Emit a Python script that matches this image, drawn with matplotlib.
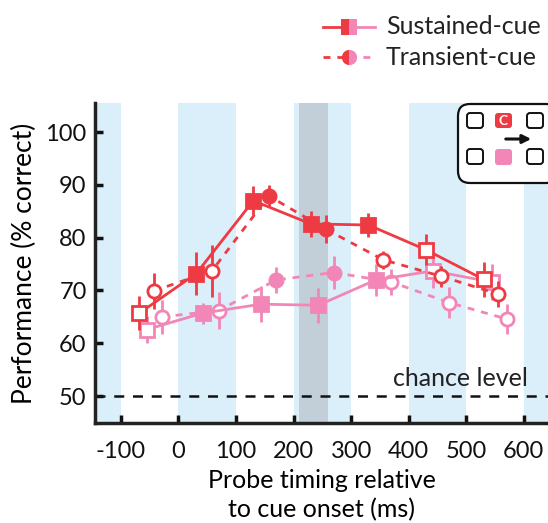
import matplotlib
matplotlib.use("Agg")
import matplotlib.pyplot as plt
from matplotlib.patches import FancyBboxPatch

plt.rcParams['font.family'] = ['Lato', 'DejaVu Sans']

RED = '#ee3a43'
PINK = '#f287b7'
BLUE = '#dbeffa'
GRAY = '#c3cfd8'

# Data
red_sus_x = [-68, 31, 130, 230, 330, 430, 530]
red_sus_y = [65.7, 73.2, 87.0, 82.6, 82.4, 77.7, 72.1]
red_sus_e = [3.2, 4.0, 2.8, 2.4, 2.3, 2.9, 3.3]
red_sus_f = [False, True, True, True, True, False, False]

red_tr_x = [-43, 58, 157, 256, 356, 456, 556]
red_tr_y = [69.9, 73.7, 87.9, 81.6, 75.8, 72.7, 69.3]
red_tr_e = [3.5, 5.0, 2.0, 2.7, 1.7, 2.0, 2.5]
red_tr_f = [False, False, True, True, False, False, False]

pink_sus_x = [-55, 42, 143, 243, 343, 442, 544]
pink_sus_y = [62.6, 65.7, 67.4, 67.2, 72.0, 73.7, 71.6]
pink_sus_e = [2.5, 2.0, 3.4, 3.3, 3.0, 3.2, 3.5]
pink_sus_f = [False, True, True, True, True, False, False]

pink_tr_x = [-29, 70, 170, 270, 370, 470, 570]
pink_tr_y = [65.0, 66.2, 72.0, 73.4, 71.6, 67.7, 64.6]
pink_tr_e = [3.2, 3.5, 2.5, 3.2, 2.4, 3.0, 2.9]
pink_tr_f = [False, False, True, True, False, False, False]

blue_bands = [(-200, -100), (0, 100), (200, 300), (400, 500), (600, 700)]
gray_band = (210, 260)
xticks = [-100, 0, 100, 200, 300, 400, 500, 600]
yticks = [50, 60, 70, 80, 90, 100]

W, H = 548, 523
FS = 18
fig = plt.figure(figsize=(W / 100, H / 100), dpi=100)
ax = fig.add_axes([95 / W, 1 - 423 / H, (W - 95) / W, (423 - 103) / H])
ax.set_xlim(-145, 642)
ax.set_ylim(44.9, 105.5)

for a, b in blue_bands:
    ax.axvspan(a, b, color=BLUE, lw=0, zorder=0)
ax.axvspan(*gray_band, color=GRAY, lw=0, zorder=0.5)
ax.axhline(50, color='#111111', ls=(0, (4, 3.5)), lw=1.8, zorder=1)
ax.text(607, 51.9, 'chance level', ha='right', va='baseline', fontsize=FS, color='#222222')


def series(xs, ys, es, fs, color, ls, marker, z, ms):
    ax.plot(xs, ys, color=color, ls=ls, lw=2, zorder=z)
    for x, y, e, f in zip(xs, ys, es, fs):
        ax.plot([x, x], [y - e, y + e], color=color, lw=2, zorder=z + 0.1,
                solid_capstyle='butt')
        ax.plot([x], [y], marker=marker, ms=ms, mew=2, mec=color,
                mfc=color if f else 'white', zorder=z + 0.2, ls='none')


series(pink_tr_x, pink_tr_y, pink_tr_e, pink_tr_f, PINK, (0, (2.5, 2.5)), 'o', 2, 9.5)
series(pink_sus_x, pink_sus_y, pink_sus_e, pink_sus_f, PINK, '-', 's', 3, 10)
series(red_tr_x, red_tr_y, red_tr_e, red_tr_f, RED, (0, (2.5, 2.5)), 'o', 4, 9.5)
series(red_sus_x, red_sus_y, red_sus_e, red_sus_f, RED, '-', 's', 5, 10)

ax.set_xticks(xticks)
ax.set_yticks(yticks)
ax.set_xticklabels([str(t) for t in xticks])
ax.tick_params(direction='in', length=6, width=2.5, labelsize=FS - 1, colors='#111111')
ax.tick_params(axis='x', pad=13)
ax.tick_params(axis='y', pad=6)
for s in ['top', 'right']:
    ax.spines[s].set_visible(False)
for s in ['left', 'bottom']:
    ax.spines[s].set_linewidth(2.5)
    ax.spines[s].set_color('#222222')
ax.set_ylabel('Performance (% correct)', fontsize=FS + 1, labelpad=6)
ax.set_xlabel('Probe timing relative\nto cue onset (ms)', fontsize=FS, labelpad=5,
              linespacing=1.3)

# Legend (manual)
lg = fig.add_axes([0, 1 - 75 / H, 1, 75 / H])
lg.set_xlim(0, W)
lg.set_ylim(75, 0)
lg.axis('off')
for yy, ls, mk, lab in [(27, '-', 's', 'Sustained-cue'), (57, (0, (2.5, 2.5)), 'o', 'Transient-cue')]:
    lg.plot([323, 349], [yy, yy], color=RED, ls=ls, lw=2)
    lg.plot([349, 375], [yy, yy], color=PINK, ls=ls, lw=2)
    lg.plot([349], [yy], marker=mk, ms=11, fillstyle='left', mfc=RED, mfcalt=PINK,
            mec='none', mew=0)
    lg.text(386, yy, lab, fontsize=FS, va='center', ha='left', color='#222222')

# Inset icon
ic = fig.add_axes([0, 0, 1, 1], zorder=10)
ic.set_xlim(0, W)
ic.set_ylim(H, 0)
ic.axis('off')
ic.add_patch(FancyBboxPatch((458, 104), 100, 79, boxstyle='round,pad=0,rounding_size=12',
                            fc='white', ec='#111111', lw=1.6))
for (x0, y0) in [(467, 113), (527, 113), (467, 149), (527, 149)]:
    ic.add_patch(FancyBboxPatch((x0, y0), 16, 15, boxstyle='round,pad=0,rounding_size=3',
                                fc='white', ec='#111111', lw=1.4))
ic.add_patch(FancyBboxPatch((495, 113), 17, 15, boxstyle='round,pad=0,rounding_size=3',
                            fc=RED, ec='none'))
ic.text(503.5, 121, 'C', color='white', fontsize=10, fontweight='bold', ha='center', va='center')
ic.add_patch(FancyBboxPatch((495, 149), 17, 16, boxstyle='round,pad=0,rounding_size=3',
                            fc=PINK, ec='none'))
ic.annotate('', xy=(534, 139), xytext=(503, 139),
            arrowprops=dict(arrowstyle='-|>,head_length=0.5,head_width=0.25', color='#111111', lw=2.2))

fig.savefig('out.png', dpi=100)
